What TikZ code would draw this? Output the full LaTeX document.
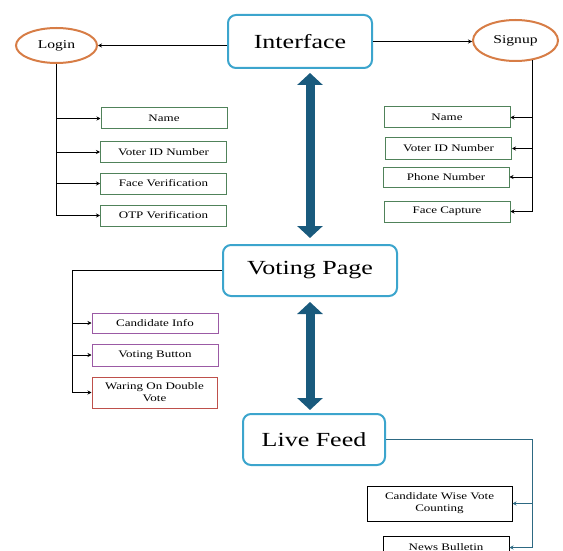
\documentclass[tikz,border=0pt]{standalone}
\usepackage{fontspec}
\setmainfont{Liberation Serif}[FakeStretch=1.3]
\usetikzlibrary{arrows.meta,shapes.geometric}
\definecolor{boxblue}{RGB}{60,165,205}
\definecolor{ringorange}{RGB}{215,125,70}
\definecolor{fieldgreen}{RGB}{80,130,90}
\definecolor{fieldpurple}{RGB}{155,90,165}
\definecolor{fieldred}{RGB}{190,80,75}
\definecolor{arrowblue}{RGB}{25,90,125}
\definecolor{feedteal}{RGB}{45,105,130}
\begin{document}
\begin{tikzpicture}[x=1pt, y=-1pt,
        page/.style={draw=boxblue, line width=2pt, rounded corners=8pt, inner sep=0pt, font=\fontsize{20}{24}\selectfont},
        ring/.style={ellipse, draw=ringorange, line width=2pt, inner sep=0pt, font=\fontsize{12}{14}\selectfont},
        field/.style={draw, line width=1pt, inner sep=0pt, minimum width=126pt, minimum height=21pt, align=center, font=\fontsize{10}{12}\selectfont},
        trunk/.style={line width=1.2pt},
        link/.style={thick, -{Stealth[length=4pt, width=4pt]}},
        bigarrow/.style={arrowblue, line width=9pt, {Triangle[width=25pt, length=12pt]}-{Triangle[width=25pt, length=12pt]}}]
        \useasboundingbox (0,0) rectangle (563,551);
        \node [page, minimum width=144pt, minimum height=53pt] (iface) at (300,41.5) {Interface};
        \node [ring, minimum width=81pt, minimum height=35pt] (login) at (56.5,45.5) {Login};
        \node [ring, minimum width=85pt, minimum height=41pt] (signup) at (515.5,40.5) {Signup};
        \node [field, draw=fieldgreen] (lname) at (164,118.5) {Name};
        \node [field, draw=fieldgreen, minimum height=20pt] (lvid) at (163.5,152) {Voter ID Number};
        \node [field, draw=fieldgreen] (lface) at (163.5,183.5) {Face Verification};
        \node [field, draw=fieldgreen] (lotp) at (163.5,215.5) {OTP Verification};
        \node [field, draw=fieldgreen] (sname) at (447,117.5) {Name};
        \node [field, draw=fieldgreen] (svid) at (448.5,148.5) {Voter ID Number};
        \node [field, draw=fieldgreen, minimum height=20pt] (sphone) at (446,177) {Phone Number};
        \node [field, draw=fieldgreen] (sface) at (447,211.5) {Face Capture};
        \node [page, minimum width=174pt, minimum height=51pt] (vote) at (310,270.5) {Voting Page};
        \node [field, draw=fieldpurple, minimum height=20pt] (vinfo) at (155,323) {Candidate Info};
        \node [field, draw=fieldpurple, minimum height=22pt] (vbutton) at (155,355) {Voting Button};
        \node [field, draw=fieldred, minimum width=125pt, minimum height=31pt] (vwarn) at (154.5,392.5) {Waring On Double\\Vote};
        \node [page, minimum width=142pt, minimum height=51pt] (live) at (314,439.5) {Live Feed};
        \node [field, minimum width=145pt, minimum height=35pt] (fcount) at (439.5,503.5) {Candidate Wise Vote\\Counting};
        \node [field, minimum height=22pt] (fnews) at (446,547.5) {News Bulletin};
        \coordinate (vtrunk) at (72.5,270.5);
        \coordinate (ftrunk) at (532,439.5);
        \draw [link] (iface.west |- login.east) -- (login.east);
        \draw [link] (iface.east) -- (iface.east -| signup.west);
        \draw [trunk] (login.south) -- (login.south |- lotp.west);
        \foreach \f in {lname, lvid, lface, lotp}
            \draw [link] (login.south |- \f.west) -- (\f.west);
        \draw [trunk] (signup.-49) -- (signup.-49 |- sface.east);
        \foreach \f in {sname, svid, sphone, sface}
            \draw [link] (signup.-49 |- \f.east) -- (\f.east);
        \draw [trunk] (vote.west) -- (vtrunk) -- (vtrunk |- vwarn.west);
        \foreach \f in {vinfo, vbutton, vwarn}
            \draw [link] (vtrunk |- \f.west) -- (\f.west);
        \draw [thick, feedteal] (live.east) -- (ftrunk) -- (ftrunk |- fnews.east);
        \foreach \f in {fcount, fnews}
            \draw [link, feedteal] (ftrunk |- \f.east) -- (\f.east);
        \draw [bigarrow, shorten <=4pt, shorten >=6pt] (iface.south -| vote.north) -- (vote.north);
        \draw [bigarrow, shorten <=5pt, shorten >=3pt] (vote.south) -- (vote.south |- live.north);
    \end{tikzpicture}
\end{document}
